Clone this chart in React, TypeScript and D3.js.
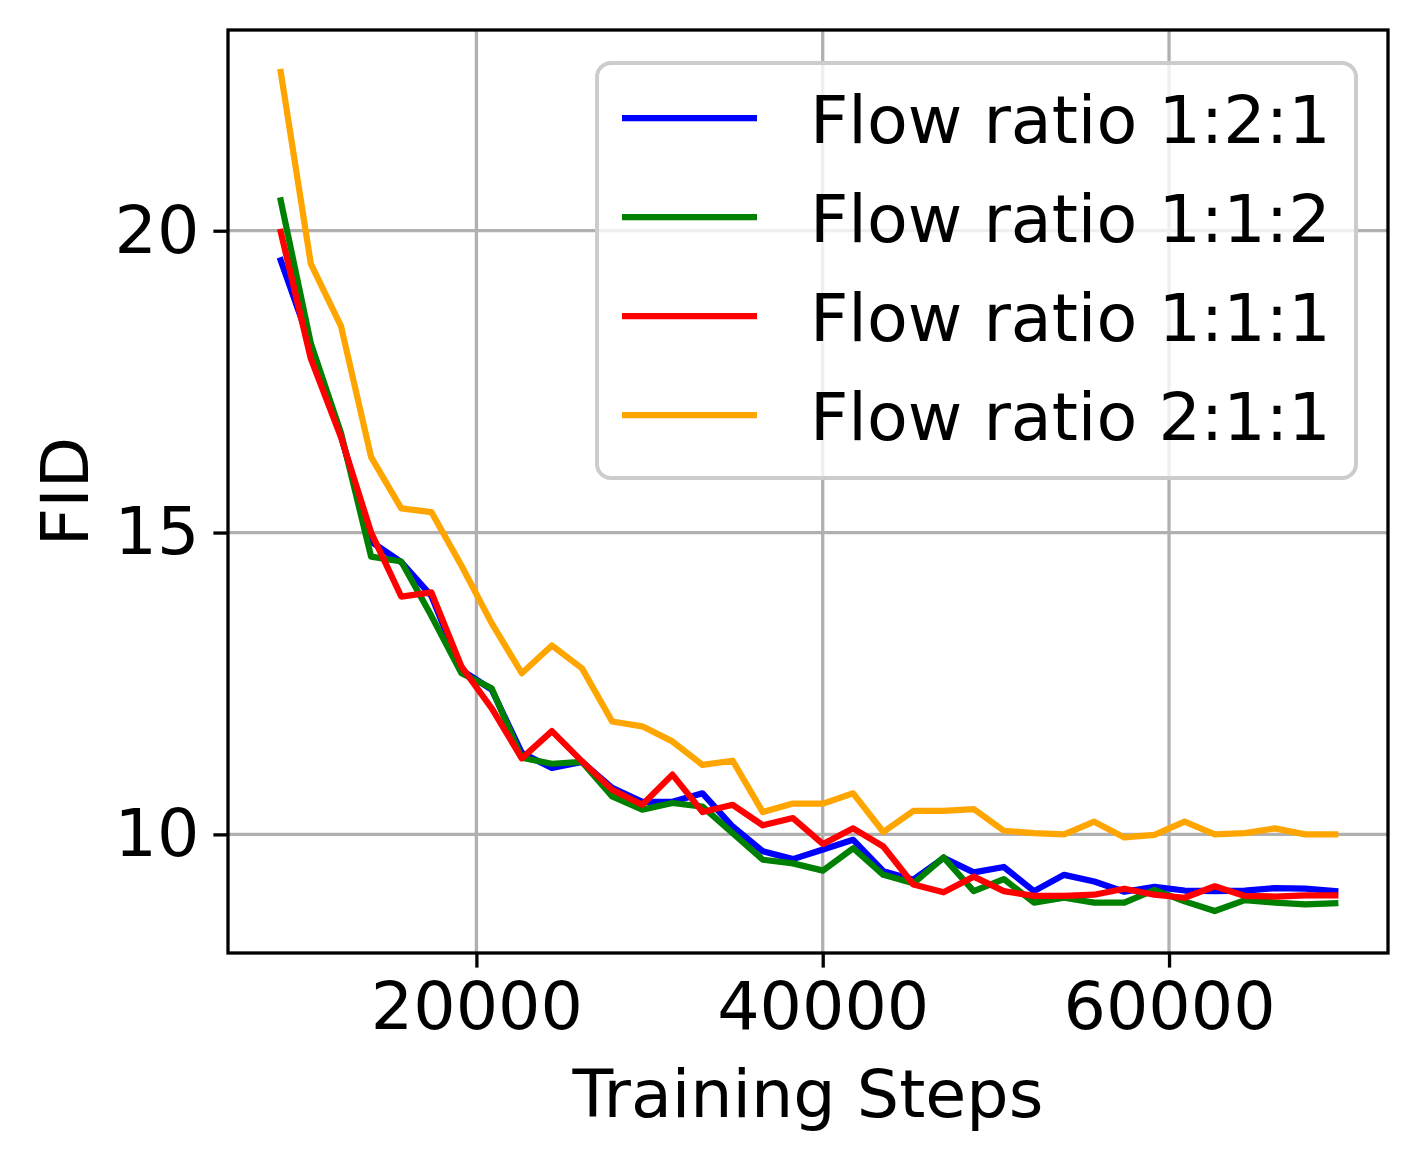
import React, { useEffect, useRef } from 'react';
import * as d3 from 'd3';

const WIDTH = 1419;
const HEIGHT = 1161;
const MARGIN = { top: 30, right: 31, bottom: 208, left: 228 };
const FONT = '"DejaVu Sans", sans-serif';
const FONT_SIZE = 66.7;

// training steps (x) shared by every run
const steps = [
  8700, 10440, 12180, 13920, 15660, 17400, 19140, 20880, 22620, 24360, 26100, 27840,
  29580, 31320, 33060, 34800, 36540, 38280, 40020, 41760, 43500, 45240, 46980, 48720,
  50460, 52200, 53940, 55680, 57420, 59160, 60900, 62640, 64380, 66120, 67860, 69600,
];

const fidRatio121 = [
  19.51, 18.1, 16.6, 14.85, 14.51, 13.95, 12.72, 12.4, 11.35, 11.1, 11.2, 10.77,
  10.54, 10.54, 10.68, 10.13, 9.72, 9.59, 9.75, 9.91, 9.39, 9.25, 9.61, 9.37,
  9.46, 9.06, 9.33, 9.22, 9.05, 9.13, 9.07, 9.06, 9.07, 9.11, 9.1, 9.06,
];

const fidRatio112 = [
  20.5, 18.13, 16.65, 14.6, 14.52, 13.62, 12.67, 12.42, 11.27, 11.17, 11.2, 10.63,
  10.41, 10.52, 10.46, 10.02, 9.58, 9.52, 9.4, 9.77, 9.33, 9.19, 9.62, 9.06,
  9.26, 8.87, 8.95, 8.87, 8.87, 9.08, 8.89, 8.73, 8.91, 8.87, 8.84, 8.86,
];

const fidRatio111 = [
  19.98, 17.88, 16.58, 15.0, 13.94, 14.01, 12.78, 12.09, 11.26, 11.71, 11.21, 10.74,
  10.49, 10.99, 10.37, 10.49, 10.15, 10.27, 9.84, 10.1, 9.8, 9.17, 9.04, 9.3,
  9.06, 8.98, 8.98, 9.0, 9.1, 9.0, 8.95, 9.14, 8.98, 8.97, 8.99, 8.99,
];

const fidRatio211 = [
  22.63, 19.45, 18.42, 16.25, 15.4, 15.34, 14.45, 13.5, 12.67, 13.13, 12.75, 11.87,
  11.79, 11.54, 11.15, 11.22, 10.37, 10.51, 10.51, 10.68, 10.04, 10.39, 10.39, 10.42,
  10.06, 10.02, 10.0, 10.21, 9.95, 9.99, 10.21, 10.0, 10.02, 10.1, 10.0, 10.0,
];

const seriesNames = ['Flow ratio 1:2:1', 'Flow ratio 1:1:2', 'Flow ratio 1:1:1', 'Flow ratio 2:1:1'];
const seriesColors = ['#0000ff', '#008000', '#ff0000', '#ffa500'];
const seriesValues = [fidRatio121, fidRatio112, fidRatio111, fidRatio211];

const xTicks = [20000, 40000, 60000];
const yTicks = [10, 15, 20];

const App: React.FC = () => {
  const svgRef = useRef<SVGSVGElement>(null);

  useEffect(() => {
    const svg = d3.select(svgRef.current);
    svg.selectAll('*').remove();

    const chartWidth = WIDTH - MARGIN.left - MARGIN.right;
    const chartHeight = HEIGHT - MARGIN.top - MARGIN.bottom;

    // matplotlib style 5% margins
    const [xMin, xMax] = d3.extent(steps) as [number, number];
    const xPad = (xMax - xMin) * 0.05;
    const allValues = seriesValues.flat();
    const yMin = d3.min(allValues) || 0;
    const yMax = d3.max(allValues) || 0;
    const yPad = (yMax - yMin) * 0.05;

    const xScale = d3.scaleLinear().domain([xMin - xPad, xMax + xPad]).range([0, chartWidth]);
    const yScale = d3.scaleLinear().domain([yMin - yPad, yMax + yPad]).range([chartHeight, 0]);

    const g = svg.append('g').attr('transform', `translate(${MARGIN.left},${MARGIN.top})`);

    // Grid
    g.append('g')
      .selectAll('line')
      .data(xTicks)
      .enter().append('line')
      .attr('x1', d => xScale(d)).attr('x2', d => xScale(d))
      .attr('y1', 0).attr('y2', chartHeight)
      .attr('stroke', '#b0b0b0').attr('stroke-width', 3.3);

    g.append('g')
      .selectAll('line')
      .data(yTicks)
      .enter().append('line')
      .attr('y1', d => yScale(d)).attr('y2', d => yScale(d))
      .attr('x1', 0).attr('x2', chartWidth)
      .attr('stroke', '#b0b0b0').attr('stroke-width', 3.3);

    // Lines
    const line = d3.line<number>()
      .x((_, i) => xScale(steps[i]))
      .y(d => yScale(d));

    seriesValues.forEach((vals, i) => {
      g.append('path')
        .datum(vals)
        .attr('fill', 'none')
        .attr('stroke', seriesColors[i])
        .attr('stroke-width', 6.25)
        .attr('stroke-linejoin', 'round')
        .attr('stroke-linecap', 'square')
        .attr('d', line);
    });

    // Axes
    const xAxis = d3.axisBottom(xScale)
      .tickValues(xTicks)
      .tickSize(14.6)
      .tickPadding(14)
      .tickFormat(d3.format('d'));
    const xg = g.append('g').attr('transform', `translate(0,${chartHeight})`).call(xAxis);
    xg.select('.domain').remove();
    xg.selectAll('.tick line').attr('stroke', '#000').attr('stroke-width', 3.3);
    xg.selectAll('.tick text')
      .attr('fill', '#000')
      .style('font-family', FONT)
      .style('font-size', `${FONT_SIZE}px`);

    const yAxis = d3.axisLeft(yScale)
      .tickValues(yTicks)
      .tickSize(14.6)
      .tickPadding(14)
      .tickFormat(d3.format('d'));
    const yg = g.append('g').call(yAxis);
    yg.select('.domain').remove();
    yg.selectAll('.tick line').attr('stroke', '#000').attr('stroke-width', 3.3);
    yg.selectAll('.tick text')
      .attr('fill', '#000')
      .style('font-family', FONT)
      .style('font-size', `${FONT_SIZE}px`);

    // Frame
    g.append('rect')
      .attr('x', 0).attr('y', 0)
      .attr('width', chartWidth).attr('height', chartHeight)
      .attr('fill', 'none')
      .attr('stroke', '#000')
      .attr('stroke-width', 3.3);

    // Axis labels
    g.append('text')
      .attr('x', chartWidth / 2)
      .attr('y', chartHeight + 164)
      .attr('text-anchor', 'middle')
      .style('font-family', FONT)
      .style('font-size', `${FONT_SIZE}px`)
      .text('Training Steps');

    g.append('text')
      .attr('transform', 'rotate(-90)')
      .attr('x', -chartHeight / 2)
      .attr('y', -140)
      .attr('text-anchor', 'middle')
      .style('font-family', FONT)
      .style('font-size', `${FONT_SIZE}px`)
      .text('FID');

    // Legend
    const legend = svg.append('g').attr('transform', 'translate(597,63)');
    legend.append('rect')
      .attr('x', 0).attr('y', 0)
      .attr('width', 759).attr('height', 415)
      .attr('rx', 14)
      .attr('fill', 'rgba(255,255,255,0.8)')
      .attr('stroke', '#cccccc')
      .attr('stroke-width', 4);

    const items = legend.selectAll('.legend-item')
      .data(seriesNames)
      .enter().append('g')
      .attr('class', 'legend-item')
      .attr('transform', (_, i) => `translate(0,${55 + i * 99})`);

    items.append('line')
      .attr('x1', 25).attr('x2', 160)
      .attr('y1', 0).attr('y2', 0)
      .attr('stroke', (_, i) => seriesColors[i])
      .attr('stroke-width', 6.25);

    items.append('text')
      .attr('x', 213)
      .attr('y', 25)
      .style('font-family', FONT)
      .style('font-size', `${FONT_SIZE}px`)
      .text(d => d);
  }, []);

  return (
    <svg
      ref={svgRef}
      width={WIDTH}
      height={HEIGHT}
      style={{ position: 'absolute', left: 0, top: 0, background: '#fff' }}
    />
  );
};

export default App;
